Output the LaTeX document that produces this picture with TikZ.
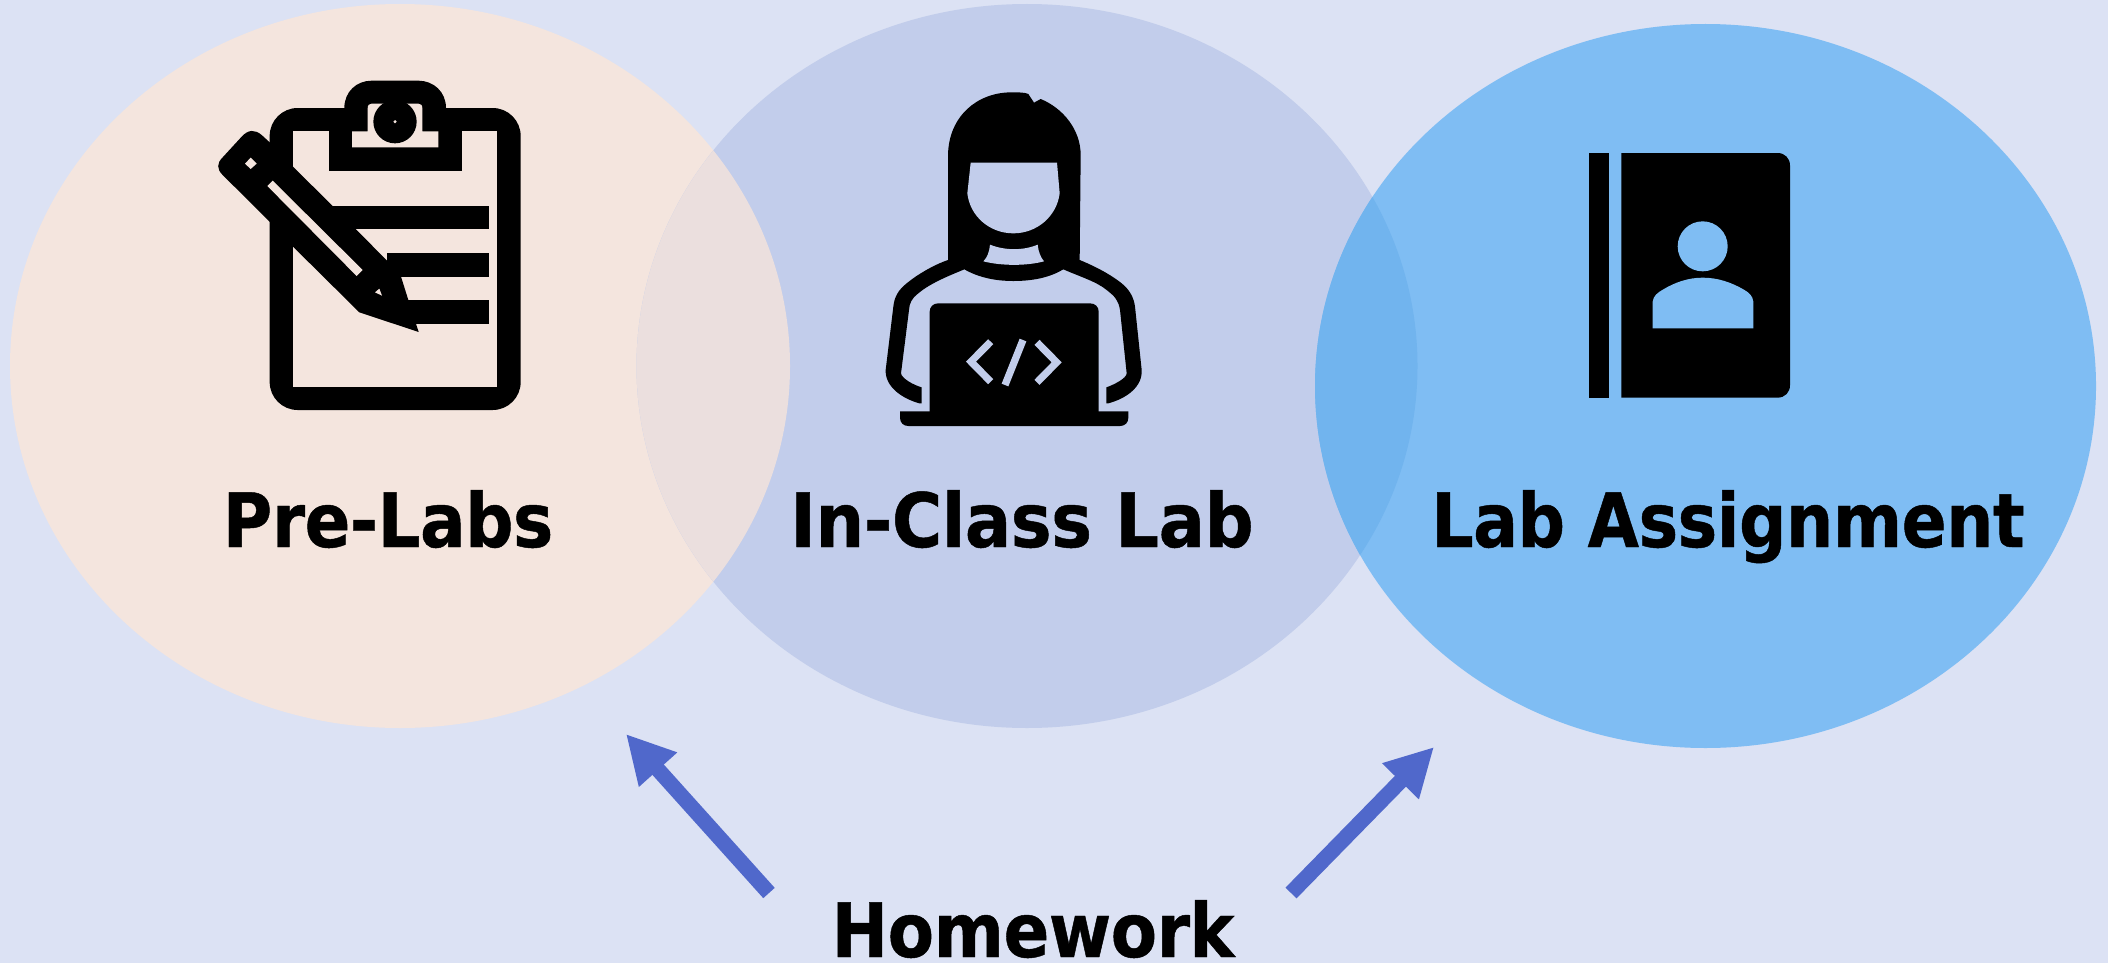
\documentclass[tikz,border=0pt]{standalone}
\usepackage{fontspec}
\usetikzlibrary{arrows.meta}
\newfontfamily\lab[FakeStretch=0.9,FakeBold=0.6,LetterSpace=-0.6]{DejaVu Sans}
\newfontfamily\labw[FakeStretch=0.915,FakeBold=0.6,LetterSpace=-0.6]{DejaVu Sans}
\newfontfamily\labn[FakeStretch=0.885,FakeBold=0.6,LetterSpace=-0.6]{DejaVu Sans}
\definecolor{bgc}{HTML}{DCE2F4}
\definecolor{lc}{HTML}{F4E5DE}
\definecolor{mc}{HTML}{C2CDEB}
\definecolor{rc}{HTML}{7FBDF3}
\definecolor{lmc}{HTML}{EBDFDE}
\definecolor{mrc}{HTML}{71B4EE}
\definecolor{arc}{HTML}{5068CB}
\tikzset{
 labeltext/.style={text=black,inner sep=0pt,anchor=base},
 hwarrow/.style={draw=arc,line width=7.7pt,-{Triangle[length=24pt,width=24pt]}},
 ink/.style={fill=black},
 codemark/.style={line width=3.6pt,draw=mc}
}
\begin{document}
\begin{tikzpicture}[x=0.5pt,y=-0.5pt]
\useasboundingbox (0,0) rectangle (2108,963);
\fill[bgc] (0,0) rectangle (2108,963);
% circles
\def\ella{(400,366) ellipse [x radius=390,y radius=362]}
\def\ellb{(1027,366) ellipse [x radius=390.5,y radius=362]}
\def\ellc{(1705.5,386) ellipse [x radius=390.5,y radius=362]}
\fill[lc] \ella;
\fill[mc] \ellb;
\fill[rc] \ellc;
\begin{scope}\clip \ella; \fill[lmc] \ellb; \end{scope}
\begin{scope}\clip \ellb; \fill[mrc] \ellc; \end{scope}
% clipboard
\begin{scope}[shift={(200,60)},x=0.16667pt,y=-0.16667pt]
 \fill[ink,rounded corners=14pt] (209,144) -- (962,144) -- (962,1050) -- (209,1050) -- cycle;
 \fill[lc] (279,214) rectangle (890,980);
 \fill[ink] (433,214) -- (433,144) .. controls (433,95) and (470,62) .. (515,62) -- (655,62) .. controls (700,62) and (738,95) .. (738,144) -- (738,214) -- cycle;
 \fill[ink] (386,200) rectangle (785,332);
 \fill[lc] (456,214) -- (503,214) -- (503,145) .. controls (503,135) and (508,131) .. (515,131) -- (655,131) .. controls (662,131) and (667,135) .. (667,145) -- (667,214) -- (715,214) -- (715,262) -- (456,262) -- cycle;
 \fill[ink] (585,185) circle [radius=65];
 \fill[lc] (585,185) circle [radius=5];
 \fill[ink] (398,438) rectangle (867,508);
 \fill[ink] (562,580) rectangle (867,650);
 \fill[ink] (600,720) rectangle (867,792);
 \fill[ink] (209,247) -- (279,320) -- (398,438) -- (470,510) -- (562,603) -- (603,650) -- (625,720) -- (656,816) -- (478,757) -- (279,560) -- (209,485) -- (68,345) .. controls (50,327) and (50,310) .. (68,292) -- (125,230) .. controls (145,208) and (165,208) .. (185,225) -- cycle;
 \fill[lc] (152,293) -- (170,311) -- (152,327) -- (135,311) -- cycle;
 \fill[lc] (218,362) -- (488,630) -- (470,648) -- (202,378) -- cycle;
 \fill[lc] (525,697) -- (538,686) -- (546,707) -- cycle;
\end{scope}
% person
\begin{scope}[shift={(870,80)},x=0.16667pt,y=-0.16667pt]
 \fill[ink] (234,540) -- (234,225) .. controls (236,110) and (320,37) .. (425,37) .. controls (445,37) and (465,37) .. (475,42) -- (492,68) -- (512,57) .. controls (580,85) and (632,150) .. (632,225) -- (629,540)
  .. controls (690,565) and (730,590) .. (755,610) .. controls (780,630) and (792,655) .. (795,680) -- (815,870) .. controls (818,920) and (770,955) .. (715,970) -- (709,970) -- (709,922) .. controls (730,915) and (770,895) .. (770,880) -- (750,690) .. controls (745,660) and (735,650) .. (710,630) .. controls (680,605) and (630,590) .. (580,568) .. controls (540,592) and (490,603) .. (430,603) .. controls (375,603) and (325,592) .. (283,568) .. controls (235,588) and (180,610) .. (145,640) .. controls (125,655) and (118,670) .. (117,690) -- (93,880) .. controls (95,895) and (130,915) .. (155,922) -- (155,970) -- (148,970) .. controls (95,955) and (45,920) .. (47,870) -- (70,680) .. controls (73,650) and (85,630) .. (110,610) .. controls (140,585) and (190,555) .. (234,540) -- cycle;
 \fill[mc] (302,248) -- (561,248) -- (569,340) .. controls (560,410) and (500,460) .. (430,460) .. controls (360,460) and (300,410) .. (292,340) -- cycle;
 \fill[mc] (360,494) .. controls (405,512) and (460,512) .. (503,494) .. controls (505,515) and (512,532) .. (522,544) .. controls (470,558) and (395,558) .. (340,544) .. controls (352,532) and (358,515) .. (360,494) -- cycle;
 \fill[ink] (179,1000) -- (179,695) .. controls (179,680) and (190,670) .. (205,670) -- (660,670) .. controls (675,670) and (686,680) .. (686,695) -- (686,1000) -- cycle;
 \fill[ink] (90,994) -- (775,994) -- (775,1013) .. controls (775,1028) and (765,1038) .. (750,1038) -- (115,1038) .. controls (100,1038) and (90,1028) .. (90,1013) -- cycle;
 \draw[codemark] (362,785) -- (303,845) -- (362,905);
 \draw[codemark] (501,787) -- (560,847) -- (501,907);
 \draw[codemark] (459,780) -- (405,915);
\end{scope}
% book
\begin{scope}[shift={(1570,130)},x=0.16667pt,y=-0.16667pt]
 \fill[ink] (57,69) rectangle (117,803);
 \fill[ink] (154,69) -- (622,69) .. controls (645,69) and (660,85) .. (660,107) -- (660,765) .. controls (660,787) and (645,803) .. (622,803) -- (154,803) -- cycle;
 \fill[rc] (398,349) circle [radius=75];
 \fill[rc] (248,595) -- (248,515) .. controls (250,498) and (262,488) .. (280,478) .. controls (315,457) and (355,443) .. (398,443) .. controls (445,443) and (485,458) .. (520,478) .. controls (538,488) and (548,498) .. (550,515) -- (550,595) -- cycle;
\end{scope}
% labels
\node[labeltext,font=\lab\bfseries\fontsize{37.5pt}{40pt}\selectfont] (prelabs) at (388,547) {Pre-Labs};
\node[labeltext,font=\labw\bfseries\fontsize{37.5pt}{40pt}\selectfont] (inclass) at (1022,547) {In-Class Lab};
\node[labeltext,font=\labn\bfseries\fontsize{37.5pt}{40pt}\selectfont] (labassign) at (1728,547) {Lab Assignment};
\node[labeltext,font=\lab\bfseries\fontsize{37.5pt}{40pt}\selectfont] (homework) at (1033,957) {Homework};
% arrows
\coordinate (t1) at (769,893);
\coordinate (h1) at (626,734);
\coordinate (t2) at (1291,893);
\coordinate (h2) at (1434,747);
\draw[hwarrow] (t1) -- (h1);
\draw[hwarrow] (t2) -- (h2);
\end{tikzpicture}
\end{document}
